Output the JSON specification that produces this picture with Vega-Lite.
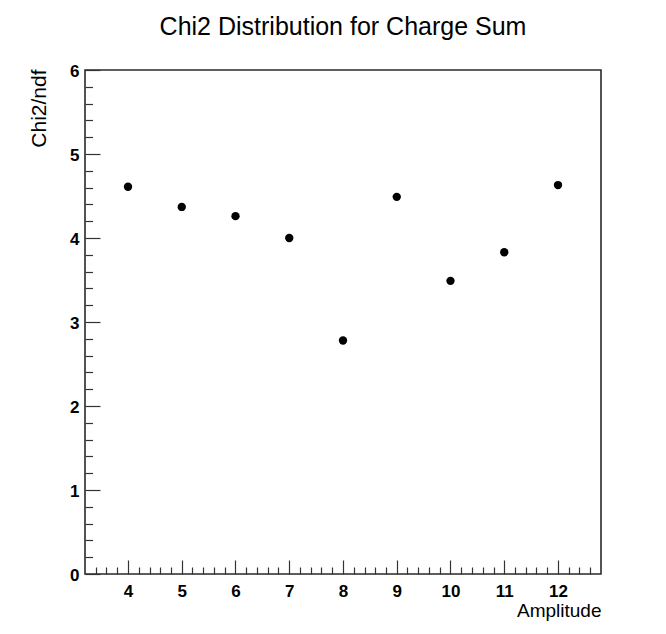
{
  "$schema": "https://vega.github.io/schema/vega-lite/v6.json",
  "autosize": {"type": "none"},
  "padding": {"left": 85, "top": 70, "right": 65, "bottom": 60},
  "width": 516,
  "height": 504,
  "background": "white",
  "title": {
    "text": "Chi2 Distribution for Charge Sum",
    "font": "Liberation Sans",
    "fontSize": 25,
    "fontWeight": "normal",
    "color": "black",
    "anchor": "middle",
    "frame": "group",
    "baseline": "alphabetic",
    "offset": 2
  },
  "config": {
    "view": {"stroke": "#2a2a2a", "strokeWidth": 1.6},
    "axis": {
      "grid": false,
      "domain": false,
      "tickColor": "#333333",
      "tickWidth": 1.2,
      "labelFont": "Liberation Sans",
      "labelFontSize": 17,
      "labelFontWeight": "bold",
      "labelColor": "black",
      "titleFont": "Liberation Sans",
      "titleColor": "black",
      "titleFontWeight": "normal"
    }
  },
  "data": {
    "values": [
      {"amplitude": 4, "chi2ndf": 4.61},
      {"amplitude": 5, "chi2ndf": 4.37},
      {"amplitude": 6, "chi2ndf": 4.26},
      {"amplitude": 7, "chi2ndf": 4.00},
      {"amplitude": 8, "chi2ndf": 2.78},
      {"amplitude": 9, "chi2ndf": 4.49},
      {"amplitude": 10, "chi2ndf": 3.49},
      {"amplitude": 11, "chi2ndf": 3.83},
      {"amplitude": 12, "chi2ndf": 4.63}
    ]
  },
  "resolve": {
    "scale": {"x": "shared", "y": "shared"},
    "axis": {"x": "independent", "y": "independent"}
  },
  "layer": [
    {
      "mark": {"type": "point", "opacity": 0},
      "encoding": {
        "x": {
          "field": "amplitude",
          "type": "quantitative",
          "scale": {"domain": [3.2, 12.8], "nice": false, "zero": false},
          "axis": {
            "orient": "bottom",
            "values": [3.4, 3.6, 3.8, 4.2, 4.4, 4.6, 4.8, 5.2, 5.4, 5.6, 5.8, 6.2, 6.4, 6.6, 6.8, 7.2, 7.4, 7.6, 7.8, 8.2, 8.4, 8.6, 8.8, 9.2, 9.4, 9.6, 9.8, 10.2, 10.4, 10.6, 10.8, 11.2, 11.4, 11.6, 11.8, 12.2, 12.4, 12.6],
            "tickSize": 7,
            "offset": -7,
            "labels": false,
            "title": null
          }
        },
        "y": {
          "field": "chi2ndf",
          "type": "quantitative",
          "scale": {"domain": [0, 6], "nice": false, "zero": false},
          "axis": {
            "orient": "left",
            "values": [0.2, 0.4, 0.6, 0.8, 1.2, 1.4, 1.6, 1.8, 2.2, 2.4, 2.6, 2.8, 3.2, 3.4, 3.6, 3.8, 4.2, 4.4, 4.6, 4.8, 5.2, 5.4, 5.6, 5.8],
            "tickSize": 7.5,
            "offset": -7.5,
            "labels": false,
            "title": null
          }
        }
      }
    },
    {
      "mark": {"type": "point", "opacity": 0},
      "encoding": {
        "x": {
          "field": "amplitude",
          "type": "quantitative",
          "scale": {"domain": [3.2, 12.8], "nice": false, "zero": false},
          "axis": {
            "orient": "bottom",
            "values": [4, 5, 6, 7, 8, 9, 10, 11, 12],
            "tickSize": 14,
            "offset": -14,
            "labels": false,
            "title": null
          }
        },
        "y": {
          "field": "chi2ndf",
          "type": "quantitative",
          "scale": {"domain": [0, 6], "nice": false, "zero": false},
          "axis": {
            "orient": "left",
            "values": [0, 1, 2, 3, 4, 5, 6],
            "tickSize": 15,
            "offset": -15,
            "labels": false,
            "title": null
          }
        }
      }
    },
    {
      "mark": {"type": "circle", "size": 70, "color": "black", "opacity": 1},
      "encoding": {
        "x": {
          "field": "amplitude",
          "type": "quantitative",
          "scale": {"domain": [3.2, 12.8], "nice": false, "zero": false},
          "axis": {
            "orient": "bottom",
            "values": [4, 5, 6, 7, 8, 9, 10, 11, 12],
            "ticks": false,
            "labelPadding": 9,
            "labelBaseline": "top",
            "title": "Amplitude",
            "titleFontSize": 19,
            "titleAnchor": "end",
            "titleAlign": "right",
            "titleBaseline": "alphabetic",
            "titleX": 516,
            "titleY": 42
          }
        },
        "y": {
          "field": "chi2ndf",
          "type": "quantitative",
          "scale": {"domain": [0, 6], "nice": false, "zero": false},
          "axis": {
            "orient": "left",
            "values": [0, 1, 2, 3, 4, 5, 6],
            "ticks": false,
            "labelPadding": 6,
            "labelOffset": 1,
            "title": "Chi2/ndf",
            "titleFontSize": 21,
            "titleAngle": 270,
            "titleAnchor": "end",
            "titleAlign": "right",
            "titleBaseline": "alphabetic",
            "titleX": -40,
            "titleY": -1
          }
        }
      }
    }
  ]
}
